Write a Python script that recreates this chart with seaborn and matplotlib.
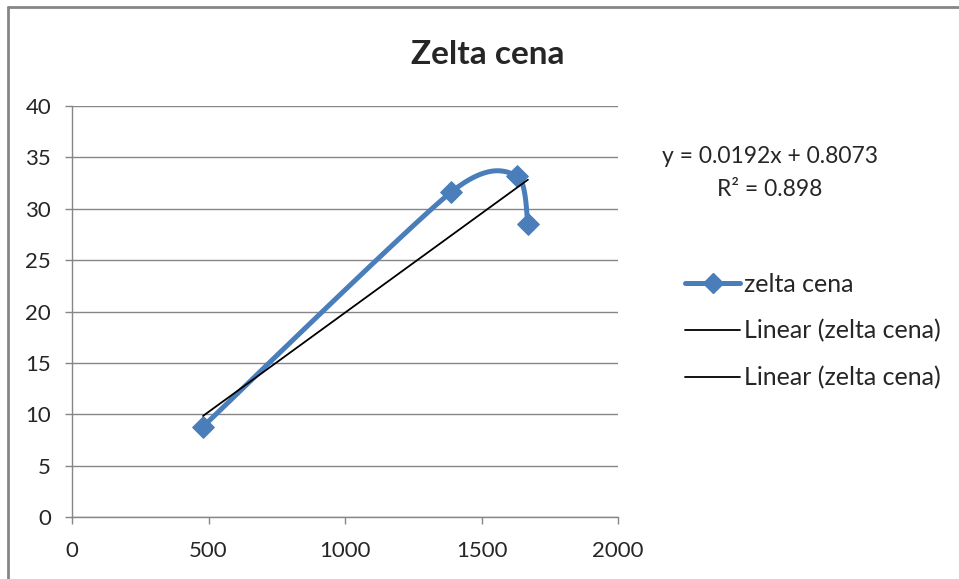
import numpy as np
import pandas as pd
import matplotlib as mpl
import matplotlib.pyplot as plt
import seaborn as sns
from matplotlib.lines import Line2D

# data
cena_x = [480, 1388, 1630, 1670]
cena_y = [8.8, 31.6, 33.2, 28.5]
trend_txt = "y = 0.0192x + 0.8073"
r2_txt = "R² = 0.898"
x_ticks = [0, 500, 1000, 1500, 2000]
y_ticks = [0, 5, 10, 15, 20, 25, 30, 35, 40]

blue = "#4A7EBB"
gray = "#868686"


def smooth(xs, ys, n=40, f=8):
  # excel style smoothed line (bezier through the points)
  p = np.column_stack([xs, ys]).astype(float)
  p = np.vstack([p[0], p, p[-1]])
  out = []
  for i in range(1, len(p) - 2):
    p0, p1, p2, p3 = p[i - 1], p[i], p[i + 1], p[i + 2]
    c1 = p1 + (p2 - p0) / f
    c2 = p2 - (p3 - p1) / f
    t = np.linspace(0, 1, n)[:, None]
    out.append((1 - t)**3 * p1 + 3 * (1 - t)**2 * t * c1 + 3 * (1 - t) * t**2 * c2 + t**3 * p2)
  out = np.vstack(out)
  return out[:, 0], out[:, 1]


sns.set_style("white")
plt.rcParams['font.family'] = ['Lato', 'DejaVu Sans']

fig = plt.figure(figsize=(9.59, 5.79), dpi=100)
ax = fig.add_axes([72/959, 1 - 517/579, (618-72)/959, (517-106)/579])

df = pd.DataFrame({"x": cena_x, "y": cena_y})
sx, sy = smooth(cena_x, cena_y)
ax.plot(sx, sy, color=blue, lw=3.6, solid_capstyle="round", zorder=3)
sns.scatterplot(data=df, x="x", y="y", marker="D", s=120, color=blue, edgecolor=blue, ax=ax, zorder=4)

# linear trend
k, b = np.polyfit(df["x"], df["y"], 1)
tx = np.array([min(cena_x), max(cena_x)])
sns.lineplot(x=tx, y=k * tx + b, color="black", lw=1.3, ax=ax, zorder=5)

ax.set_xlim(0, 2000)
ax.set_ylim(0, 40)
ax.set_xticks(x_ticks)
ax.set_yticks(y_ticks)
ax.set_xlabel("")
ax.set_ylabel("")
ax.yaxis.grid(True, color=gray, lw=1)
ax.xaxis.grid(False)
for s in ["top", "right"]:
  ax.spines[s].set_visible(False)
for s in ["left", "bottom"]:
  ax.spines[s].set_color(gray)
  ax.spines[s].set_linewidth(1)
ax.tick_params(axis="both", which="major", direction="out", length=5, width=1,
               color=gray, labelsize=16)
ax.tick_params(axis="x", bottom=True, pad=12)
ax.tick_params(axis="y", left=True, pad=10)

fig.text(488/959, 1 - 55/579, "Zelta cena", ha="center", va="center",
         fontsize=24, fontweight="bold")
fig.text(770/959, 1 - 157/579, trend_txt, ha="center", va="center", fontsize=16.5)
fig.text(770/959, 1 - 190/579, r2_txt, ha="center", va="center", fontsize=16.5)

handles = [
  Line2D([], [], color=blue, lw=3.6, marker="D", markersize=10),
  Line2D([], [], color="black", lw=1.3),
  Line2D([], [], color="black", lw=1.3),
]
labels = ["zelta cena", "Linear (zelta cena)", "Linear (zelta cena)"]
fig.legend(handles, labels, loc="upper left", bbox_to_anchor=(685/959, 1 - 273/579),
           frameon=False, fontsize=18, handlelength=2.2, handletextpad=0.16,
           labelspacing=0.94, borderaxespad=0, borderpad=0)

# chart border
fig.add_artist(Line2D([8/959, 8/959], [0, 1 - 7/579], color=gray, lw=2, transform=fig.transFigure))
fig.add_artist(Line2D([8/959, 1], [1 - 7/579, 1 - 7/579], color=gray, lw=2, transform=fig.transFigure))

fig.savefig("out.png", dpi=100)
